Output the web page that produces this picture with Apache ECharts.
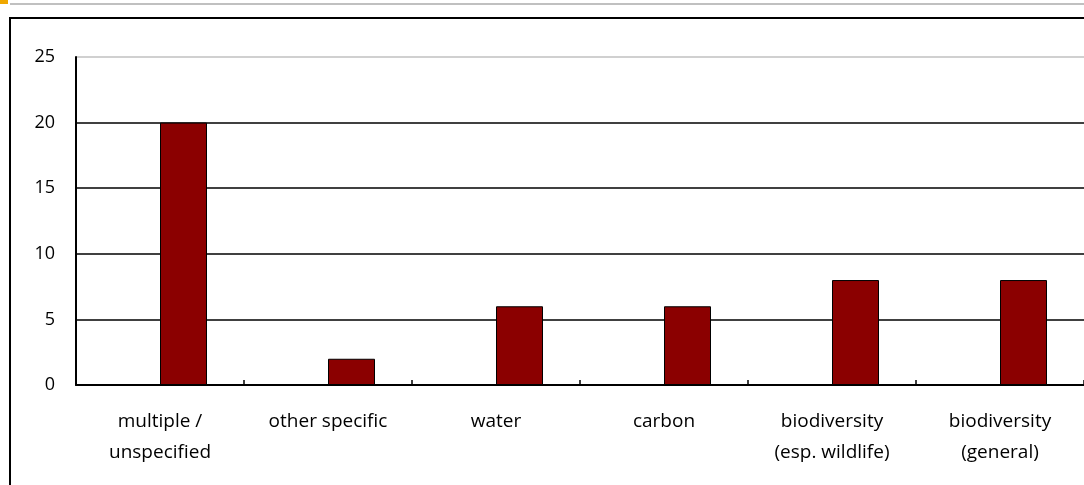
<!DOCTYPE html>
<html>
<head>
<meta charset="utf-8">
<script src="https://cdn.jsdelivr.net/npm/echarts@6/dist/echarts.min.js"></script>
<style>
html,body{margin:0;padding:0;background:#fff;}
#c{width:1084px;height:485px;}
</style>
</head>
<body>
<div id="c"></div>
<script>
var categories = ['multiple /\nunspecified', 'other specific', 'water', 'carbon', 'biodiversity\n(esp. wildlife)', 'biodiversity\n(general)'];
var emptySeries = [null, null, null, null, null, null];
var counts = [20, 2, 6, 6, 8, 8];
var yTicks = [0, 5, 10, 15, 20, 25];

var chart = echarts.init(document.getElementById('c'), null, {renderer: 'canvas'});
var font = 'Open Sans, Liberation Sans, sans-serif';
chart.setOption({
  animation: false,
  backgroundColor: '#fff',
  graphic: [
    {type: 'rect', shape: {x: 0, y: 0, width: 8, height: 4}, style: {fill: '#f0a800'}},
    {type: 'line', shape: {x1: 10, y1: 4, x2: 1084, y2: 4}, style: {stroke: '#c0c0c0', lineWidth: 2}},
    {type: 'polyline', shape: {points: [[10, 490], [10, 18], [1090, 18]]}, style: {stroke: '#000', lineWidth: 2, fill: null}}
  ],
  grid: {left: 76, right: -2, top: 57, bottom: 100, containLabel: false},
  xAxis: {
    type: 'category',
    data: categories,
    axisLine: {show: true, lineStyle: {color: '#000', width: 2}},
    axisTick: {show: true, inside: true, length: 5, lineStyle: {color: '#000', width: 1.5}},
    axisLabel: {color: '#000', fontSize: 19, fontFamily: font, margin: 21, lineHeight: 31, interval: 0},
    splitLine: {show: false}
  },
  yAxis: {
    type: 'value',
    min: yTicks[0],
    max: yTicks[yTicks.length - 1],
    interval: 5,
    axisLine: {show: true, lineStyle: {color: '#000', width: 2}},
    axisTick: {show: false},
    axisLabel: {color: '#000', fontSize: 18, fontFamily: font, margin: 21},
    splitLine: {show: true, lineStyle: {color: ['#000', '#000', '#000', '#000', '#000', '#c0c0c0'], width: 1.5}}
  },
  series: [
    {type: 'bar', data: emptySeries, barWidth: 47, barGap: '0%', itemStyle: {color: '#8b0000'}},
    {type: 'bar', data: counts, barWidth: 47, barGap: '0%', itemStyle: {color: '#8b0000', borderColor: '#000', borderWidth: 1}}
  ]
});
</script>
</body>
</html>
